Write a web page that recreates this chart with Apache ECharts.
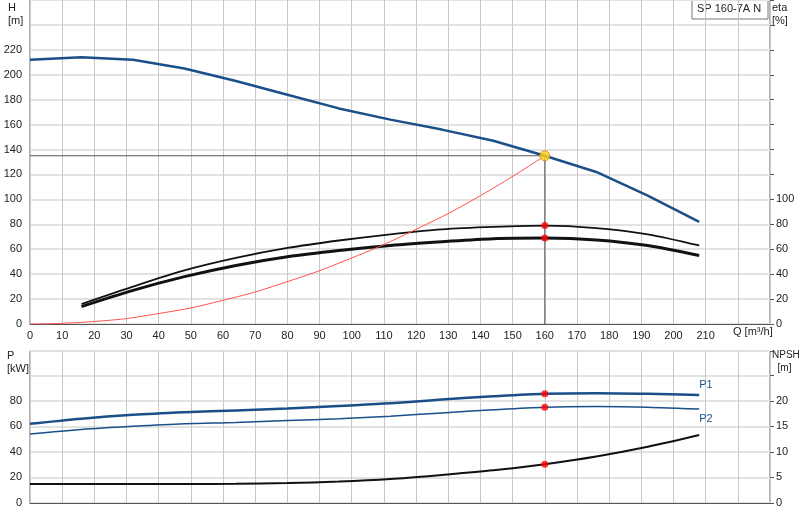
<!DOCTYPE html><html><head><meta charset="utf-8"><script src="https://cdn.jsdelivr.net/npm/echarts@6/dist/echarts.min.js"></script>
<style>body{margin:0}#c{width:800px;height:520px}</style></head><body><div id="c"></div><script>
const qPts=[0,16,32,48,64,80,96,112,128,144,160,176,192,208];
const head=[212,214,212,205,195,184,173,164,156,147,135,122,103,82];
const qEta=[16,32,48,64,80,96,112,128,144,160,176,192,208];
const etaUpper=[16,30,43,53,61,67,72,76,78,79,77,72,63];
const etaLower=[14,27,38,47,54,59,63,66,68.5,69,67.5,63,55];
const qSys=[0,20,40,60,80,100,120,140,160];
const hSys=[0,2,8.4,19,34,53,76,103,135];
const p1=[62,66,69,71,72.5,74,76,78,81,83.5,85.5,86,85.5,84.5];
const p2=[54,57.5,60,62,63,64.5,66,68,70.5,73,75,75.5,75,73.5];
const npsh=[3.7,3.7,3.7,3.7,3.75,3.9,4.2,4.7,5.5,6.4,7.6,9.1,11,13.3];
const dutyQ=160,dutyH=135,dutyEta1=79,dutyEta2=69,dutyP1=85.5,dutyP2=75,dutyNpsh=7.6;
const zip=(a,b)=>a.map((v,i)=>[v,b[i]]);
const font={fontFamily:'Liberation Sans, Arial',fontSize:11,color:'#222'};
const xBase={type:'value',min:0,max:230,interval:10,axisLine:{onZero:false,lineStyle:{color:'#555'}},axisTick:{show:false},splitLine:{lineStyle:{color:'#c8c8c8'}}};
const yGrid={lineStyle:{color:'#e2e2e2',width:2}};
const c=echarts.init(document.getElementById('c'));
c.setOption({animation:false,
grid:[{left:30,right:30,top:0,height:324,show:true,borderColor:'#666',borderWidth:1},{left:30,right:30,top:351,height:152,show:true,borderColor:'#666',borderWidth:1}],
xAxis:[Object.assign({},xBase,{gridIndex:0,axisLabel:Object.assign({},font,{formatter:v=>v<=210?v:'',margin:6})}),
Object.assign({},xBase,{gridIndex:1,axisLabel:{show:false}})],
yAxis:[{gridIndex:0,type:'value',min:0,max:260,interval:20,axisLine:{show:false},axisTick:{show:false},axisLabel:Object.assign({},font,{formatter:v=>v<=220?v:'',margin:8}),splitLine:yGrid},
{gridIndex:0,type:'value',position:'right',min:0,max:260,interval:20,axisLine:{show:false},axisTick:{show:true,length:4,lineStyle:{color:'#555'}},axisLabel:Object.assign({},font,{formatter:v=>v<=100?v:'',margin:6}),splitLine:{show:false}},
{gridIndex:1,type:'value',min:0,max:119,interval:20,axisLine:{show:false},axisTick:{show:false},axisLabel:Object.assign({},font,{formatter:v=>v<=80?v:'',margin:8}),splitLine:yGrid},
{gridIndex:1,type:'value',position:'right',min:0,max:29.75,interval:5,axisLine:{show:false},axisTick:{show:true,length:4,lineStyle:{color:'#555'}},axisLabel:Object.assign({},font,{formatter:v=>v<=20?v:'',margin:6}),splitLine:{show:false}}],
graphic:[
{type:'text',left:8,top:1,style:{text:'H\n[m]',font:'11px Liberation Sans',fill:'#222',lineHeight:13,align:'center'}},
{type:'text',left:772,top:1,style:{text:'eta\n[%]',font:'11px Liberation Sans',fill:'#222',lineHeight:13}},
{type:'text',left:733,top:326,style:{text:'Q [m³/h]',font:'11px Liberation Sans',fill:'#222'}},
{type:'text',left:7,top:349,style:{text:'P\n[kW]',font:'11px Liberation Sans',fill:'#222',lineHeight:13}},
{type:'text',left:772,top:349,style:{text:'NPSH\n  [m]',font:'10px Liberation Sans',fill:'#222',lineHeight:13}},
{type:'rect',shape:{x:692,y:0,width:76,height:19},style:{fill:'#fff',stroke:'#777'}},
{type:'text',left:697,top:3,style:{text:'SP 160-7A N',font:'11px Liberation Sans',fill:'#222'}}],
series:[
{type:'line',data:zip(qPts,head),showSymbol:false,lineStyle:{color:'#1a4f8a',width:2.5},z:3},
{type:'line',data:zip(qEta,etaUpper),showSymbol:false,lineStyle:{color:'#111',width:1.8},smooth:0.3},
{type:'line',data:zip(qEta,etaLower),showSymbol:false,lineStyle:{color:'#111',width:3},smooth:0.3},
{type:'line',data:zip(qSys,hSys),showSymbol:false,smooth:true,lineStyle:{color:'#ff5050',width:1}},
{type:'line',data:[[0,dutyH],[dutyQ,dutyH]],showSymbol:false,lineStyle:{color:'#555',width:1}},
{type:'line',data:[[dutyQ,0],[dutyQ,dutyH]],showSymbol:false,lineStyle:{color:'#555',width:1}},
{type:'scatter',data:[[dutyQ,dutyEta1],[dutyQ,dutyEta2]],symbolSize:7,itemStyle:{color:'#f00'},z:5},
{type:'scatter',data:[[dutyQ,dutyH]],symbolSize:10,itemStyle:{color:'#ffd21f',borderColor:'#e08000',borderWidth:1},z:6},
{type:'line',xAxisIndex:1,yAxisIndex:2,data:zip(qPts,p1),showSymbol:false,smooth:0.3,lineStyle:{color:'#1a4f8a',width:2.5},
 endLabel:{show:true,formatter:'P1',color:'#1a4f8a',fontSize:11,offset:[-8,-10]}},
{type:'line',xAxisIndex:1,yAxisIndex:2,data:zip(qPts,p2),showSymbol:false,smooth:0.3,lineStyle:{color:'#1a4f8a',width:1.5},
 endLabel:{show:true,formatter:'P2',color:'#1a4f8a',fontSize:11,offset:[-8,10]}},
{type:'line',xAxisIndex:1,yAxisIndex:3,data:zip(qPts,npsh),showSymbol:false,smooth:0.3,lineStyle:{color:'#111',width:2}},
{type:'scatter',xAxisIndex:1,yAxisIndex:2,data:[[dutyQ,dutyP1],[dutyQ,dutyP2]],symbolSize:7,itemStyle:{color:'#f00'},z:5},
{type:'scatter',xAxisIndex:1,yAxisIndex:3,data:[[dutyQ,dutyNpsh]],symbolSize:7,itemStyle:{color:'#f00'},z:5}]});
</script></body></html>
